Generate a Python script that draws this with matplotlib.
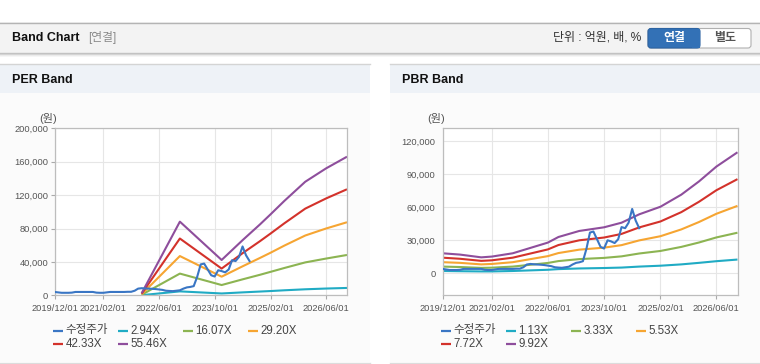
import matplotlib
matplotlib.use("Agg")
import matplotlib.pyplot as plt
import matplotlib.patches as mpatches
import numpy as np
import pandas as pd

plt.rcParams["font.family"] = ["Liberation Sans", "Noto Sans CJK KR", "DejaVu Sans"]

W, H = 760, 364

# adjusted share price, monthly from 2019/12
PRICE_START = "2019-12-01"
PRICE = [
    4000, 3500, 3000, 3000, 3000, 3200, 4000, 4000, 4000, 4000,
    4000, 4000, 3200, 3000, 3000, 3500, 4000, 4000, 4000, 4000,
    4000, 4200, 4200, 5500, 8000, 8500, 8200, 8000, 7800, 7500,
    7000, 6500, 5500, 5200, 5000, 5500, 6000, 8000, 9500, 10000,
    11000, 22000, 37000, 38000, 31000, 24000, 22500, 30000, 29000, 27500,
    31000, 42000, 41000, 46000, 58500, 48000, 41000,
]

PER_DATES = ["2022-01-01", "2022-12-01", "2023-12-01", "2024-06-01", "2024-11-01",
             "2025-02-01", "2025-06-01", "2025-12-01", "2026-06-01", "2026-12-01"]
PER_LABELS = ["2.94X", "16.07X", "29.20X", "42.33X", "55.46X"]
PER_BANDS = [
    [150, 4700, 2200, 3500, 4500, 5100, 6000, 7200, 8100, 8800],
    [700, 26000, 12300, 19100, 24600, 28100, 32700, 39400, 44000, 48300],
    [1300, 47000, 22300, 34700, 44800, 51000, 59500, 71600, 80000, 87500],
    [1900, 68000, 32000, 50400, 64900, 74000, 86200, 103800, 116000, 127000],
    [2500, 88200, 42300, 66000, 85000, 97000, 113000, 136000, 152000, 166000],
]

PBR_DATES = ["2019-12-01", "2020-05-01", "2020-11-01", "2021-02-01", "2021-08-01",
             "2022-06-01", "2022-09-01", "2023-03-01", "2023-10-01", "2024-03-01",
             "2024-08-01", "2025-02-01", "2025-08-01", "2026-01-01", "2026-06-01",
             "2026-12-01"]
PBR_LABELS = ["1.13X", "3.33X", "5.53X", "7.72X", "9.92X"]
PBR_BANDS = [
    [2100, 1900, 1700, 1700, 2100, 3200, 3800, 4400, 4800, 5200,
     6100, 6900, 8100, 9500, 11000, 12500],
    [6100, 5700, 4900, 5100, 6100, 9400, 11100, 12900, 14000, 15400,
     18000, 20300, 24000, 28000, 32600, 36900],
    [10100, 9500, 8100, 8500, 10100, 15600, 18400, 21500, 23300, 25600,
     29900, 33700, 39900, 46600, 54100, 61300],
    [14200, 13200, 11300, 11800, 14200, 21700, 25700, 30000, 32500, 35800,
     41700, 47100, 55600, 65000, 75500, 85600],
    [18200, 17000, 14500, 15200, 18200, 27900, 33000, 38500, 41800, 46000,
     53600, 60500, 71500, 83500, 97000, 110000],
]

TICK_DATES = ["2019-12-01", "2021-02-01", "2022-06-01", "2023-10-01",
              "2025-02-01", "2026-06-01"]
X_END = "2026-12-01"

C_PRICE = "#3a76c4"
BAND_COLORS = ["#20abc4", "#8cb452", "#f6a532", "#d3322b", "#8e4e9c"]
C_TEXT = "#555555"

fig = plt.figure(figsize=(W / 100, H / 100), dpi=100)
fig.patch.set_facecolor("white")

bg = fig.add_axes([0, 0, 1, 1], zorder=0)
bg.set_xlim(0, W)
bg.set_ylim(H, 0)
bg.axis("off")


def rect(x0, y0, x1, y1, **kw):
    bg.add_patch(mpatches.Rectangle((x0, y0), x1 - x0, y1 - y0, **kw))


# page header
rect(0, 22, W, 53, facecolor="#f3f3f3", edgecolor="none")
bg.plot([0, W], [22.5, 22.5], color="#b4b4b4", lw=1)
bg.plot([0, W], [53, 53], color="#c4c4c4", lw=1)
for i, a in enumerate([0.12, 0.07, 0.03]):
    bg.plot([0, W], [54 + i, 54 + i], color="black", alpha=a, lw=0.8)
bg.text(12, 38, "Band Chart", fontsize=9, fontweight="bold", color="#111111",
        ha="left", va="center")
bg.text(88, 38, "[연결]", fontsize=8.5, color="#8a8a8a", ha="left", va="center")
bg.text(641, 38, "단위 : 억원, 배, %", fontsize=8.6, color="#333333",
        ha="right", va="center")
bg.add_patch(mpatches.FancyBboxPatch((648, 28.5), 103, 19.5,
             boxstyle="round,pad=0,rounding_size=3",
             facecolor="white", edgecolor="#b0b0b0", lw=0.8))
bg.add_patch(mpatches.FancyBboxPatch((648, 28.5), 52, 19.5,
             boxstyle="round,pad=0,rounding_size=3",
             facecolor="#3371b6", edgecolor="#2d64a3", lw=0.8))
rect(692, 28.5, 700, 48, facecolor="#3371b6", edgecolor="none")
bg.text(674, 38.5, "연결", fontsize=8.6, fontweight="bold", color="white",
        ha="center", va="center")
bg.text(725.5, 38.5, "별도", fontsize=8.6, fontweight="bold", color="#555555",
        ha="center", va="center")


def panel(x0, x1, title):
    rect(x0, 64, x1, 93, facecolor="#eef2f7", edgecolor="none")
    rect(x0, 93, x1, 362, facecolor="#fbfbfb", edgecolor="none")
    bg.plot([x0, x1], [64, 64], color="#d4d4d4", lw=1)
    bg.plot([x0, x1], [362.5, 362.5], color="#dcdcdc", lw=1)
    bg.text(x0 + 12, 80, title, fontsize=9, fontweight="bold", color="#111111",
            ha="left", va="center")


panel(0, 370, "PER Band")
panel(390, W, "PBR Band")

price_dates = pd.date_range(PRICE_START, periods=len(PRICE), freq="MS")


def band_chart(left, right, dates, bands, labels, ylim, yticks, ytick_len):
    ax = fig.add_axes([left / W, 1 - 295.3 / H, (right - left) / W, 167 / H],
                      zorder=1)
    ax.set_facecolor("white")
    d = pd.to_datetime(dates)
    for vals, c in zip(bands, BAND_COLORS):
        ax.plot(d, vals, color=c, lw=1.5, solid_capstyle="butt")
    ax.plot(price_dates, PRICE, color=C_PRICE, lw=1.5, zorder=5)
    ax.set_xlim(pd.Timestamp(PRICE_START), pd.Timestamp(X_END))
    ax.set_ylim(*ylim)
    ax.set_yticks(yticks)
    ax.yaxis.set_major_formatter(plt.FuncFormatter(lambda v, _: f"{v:,.0f}"))
    ax.set_xticks(pd.to_datetime(TICK_DATES))
    ax.set_xticklabels([t.replace("-", "/") for t in TICK_DATES])
    ax.grid(True, color="#e6e6e6", lw=0.8)
    ax.set_axisbelow(True)
    for s in ax.spines.values():
        s.set_color("#bdbdbd")
        s.set_linewidth(0.9)
    ax.tick_params(axis="y", length=ytick_len, color="#aaaaaa", labelsize=6.7,
                   labelcolor=C_TEXT, pad=1.5 if ytick_len else 5)
    ax.tick_params(axis="x", length=3, color="#aaaaaa", labelsize=6.7,
                   labelcolor=C_TEXT, pad=3)
    bg.text(left - 6, 118, "(원)", fontsize=8, color=C_TEXT,
            ha="center", va="center")

    # legend, laid out like the page: four columns, 65px apart
    names = ["수정주가"] + labels
    colors = [C_PRICE] + BAND_COLORS
    for i, (n, c) in enumerate(zip(names, colors)):
        lx = left - 1.5 + 65 * (i % 4)
        ly = 330.5 + 13.5 * (i // 4)
        bg.plot([lx, lx + 10], [ly, ly], color=c, lw=1.6, solid_capstyle="butt")
        bg.text(lx + 12.5, ly, n, fontsize=8.3, color="#444444",
                ha="left", va="center")
    return ax


band_chart(54.5, 347, PER_DATES, PER_BANDS, PER_LABELS, (0, 200000),
           np.arange(0, 200001, 40000), 3)
band_chart(442.5, 737.5, PBR_DATES, PBR_BANDS, PBR_LABELS, (-20000, 131800),
           np.arange(0, 120001, 30000), 0)

fig.savefig("out.png", dpi=100, facecolor=fig.get_facecolor())
